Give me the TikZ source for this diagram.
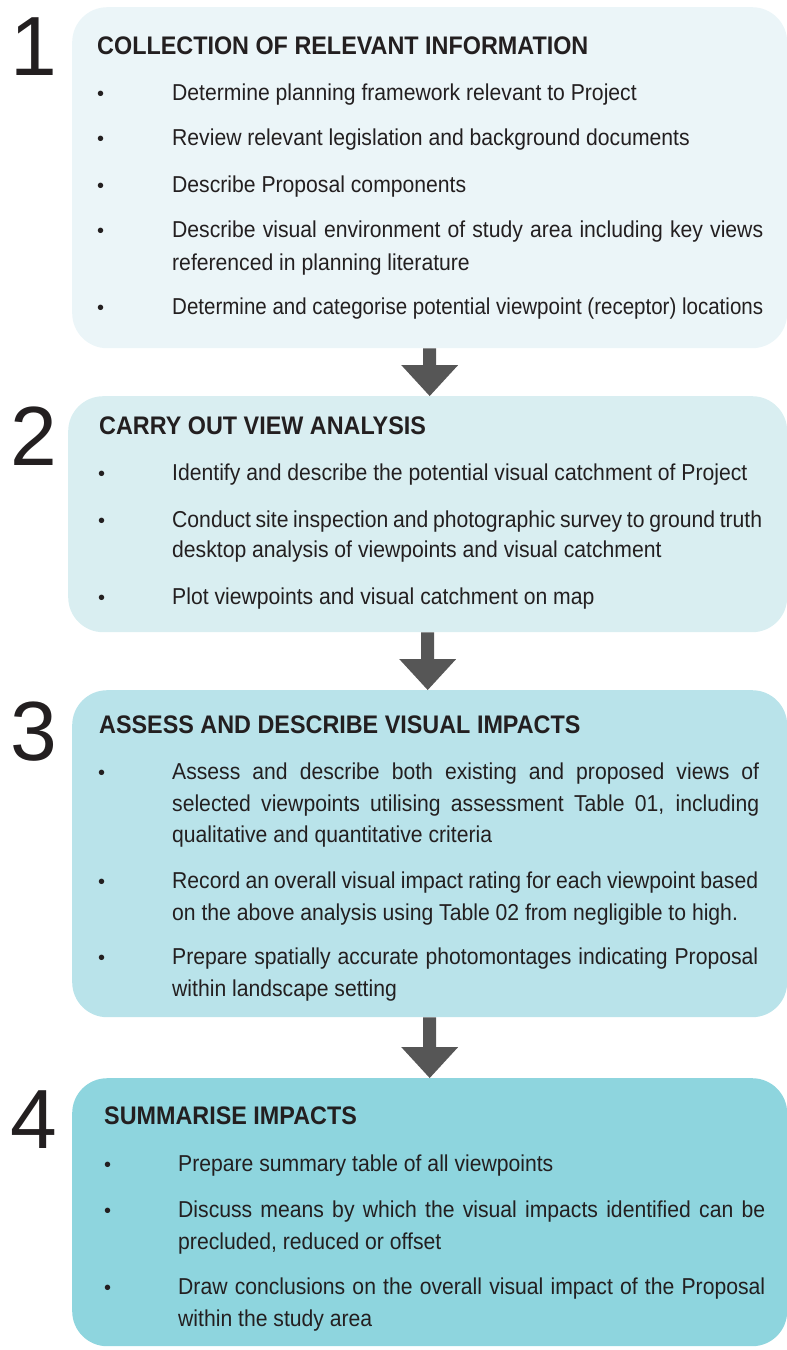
\documentclass[tikz,border=0pt]{standalone}
\usepackage{graphicx}
\usepackage{fontspec}
\setmainfont{Liberation Sans}
\newfontfamily\bodyf[FakeStretch=0.92]{Liberation Sans}
\usetikzlibrary{calc}
\definecolor{cone}{HTML}{EBF5F8}
\definecolor{ctwo}{HTML}{D9EEF1}
\definecolor{cthree}{HTML}{B9E3EA}
\definecolor{cfour}{HTML}{8ED5DE}
\definecolor{arrowc}{HTML}{565656}
\definecolor{txt}{HTML}{231F20}
\newcommand{\jl}[2]{\makebox[#1pt][s]{#2}}
\newcommand{\blockarrow}[2]{%
  \fill[arrowc] ($(#1.south)+(-6.5,0)$) -- ($(#1.south |- #2.north)+(-6.5,-31)$)
    -- ($(#1.south |- #2.north)+(-28.5,-31)$) -- (#1.south |- #2.north)
    -- ($(#1.south |- #2.north)+(28.5,-31)$) -- ($(#1.south |- #2.north)+(6.5,-31)$)
    -- ($(#1.south)+(6.5,0)$) -- cycle;}
\begin{document}
\begin{tikzpicture}[x=1pt,y=-1pt,
  stepbox/.style={rectangle, rounded corners=35pt, inner sep=0pt, anchor=north west},
  bigno/.style={font=\fontsize{84}{90}\selectfont, text=txt, inner sep=0pt, anchor=base west},
  ttl/.style={font=\bodyf\bfseries\fontsize{25.4}{30}\selectfont, text=txt, inner sep=0pt, anchor=base west},
  body/.style={font=\bodyf\fontsize{23}{32}\selectfont, text=txt, inner sep=0pt, anchor=base west},
  bul/.style={font=\fontsize{20}{24}\selectfont, text=txt, inner sep=0pt, anchor=base west}]
\useasboundingbox (0,0) rectangle (787,1350);

% boxes
\node[stepbox, fill=cone, minimum width=715pt, minimum height=341pt] (b1) at (72,7) {};
\node[stepbox, fill=ctwo, minimum width=719pt, minimum height=236pt] (b2) at (68,396) {};
\node[stepbox, fill=cthree, minimum width=715pt, minimum height=327pt] (b3) at (72,690) {};
\node[stepbox, fill=cfour, minimum width=715pt, minimum height=268pt] (b4) at (72,1078) {};

% arrows
\blockarrow{b1}{b2}
\blockarrow{b2}{b3}
\blockarrow{b3}{b4}

% numbers
\node[bigno] (n1) at (10,75) {1};
\node[bigno] (n2) at (10,465) {2};
\node[bigno] (n3) at (10,760) {3};
\node[bigno] (n4) at (10,1148) {4};

% box 1
\node[ttl] (t1) at (97,54) {COLLECTION OF RELEVANT INFORMATION};
\node[bul] (p11) at (97,100) {•};
\node[body] (a11) at (172,100) {Determine planning framework relevant to Project};
\node[bul] (p12) at (97,145) {•};
\node[body] (a12) at (172,145) {Review relevant legislation and background documents};
\node[bul] (p13) at (97,192) {•};
\node[body] (a13) at (172,192) {Describe Proposal components};
\node[bul] (p14) at (97,237) {•};
\node[body] (a14) at (172,237) {\jl{591}{Describe visual environment of study area including key views}};
\node[body] (a14b) at (172,270) {referenced in planning literature};
\node[bul] (p15) at (97,314) {•};
\node[body] (a15) at (172,314) {\resizebox{591pt}{\height}{Determine and categorise potential viewpoint (receptor) locations}};

% box 2
\node[ttl] (t2) at (99,434) {CARRY OUT VIEW ANALYSIS};
\node[bul] (p21) at (98,480) {•};
\node[body] (a21) at (172,480) {Identify and describe the potential visual catchment of Project};
\node[bul] (p22) at (98,527) {•};
\node[body] (a22) at (172,527) {\jl{590}{Conduct site inspection and photographic survey to ground truth}};
\node[body] (a22b) at (172,557) {desktop analysis of viewpoints and visual catchment};
\node[bul] (p23) at (98,604) {•};
\node[body] (a23) at (172,604) {Plot viewpoints and visual catchment on map};

% box 3
\node[ttl] (t3) at (99,733) {ASSESS AND DESCRIBE VISUAL IMPACTS};
\node[bul] (p31) at (98,779) {•};
\node[body] (a31) at (172,779) {\jl{587}{Assess and describe both existing and proposed views of}};
\node[body] (a31b) at (172,811) {\jl{587}{selected viewpoints utilising assessment Table 01, including}};
\node[body] (a31c) at (172,842) {qualitative and quantitative criteria};
\node[bul] (p32) at (98,888) {•};
\node[body] (a32) at (172,888) {\jl{586}{Record an overall visual impact rating for each viewpoint based}};
\node[body] (a32b) at (172,920) {on the above analysis using Table 02 from negligible to high.};
\node[bul] (p33) at (98,964) {•};
\node[body] (a33) at (172,964) {\jl{586}{Prepare spatially accurate photomontages indicating Proposal}};
\node[body] (a33b) at (172,996) {within landscape setting};

% box 4
\node[ttl] (t4) at (104,1124) {SUMMARISE IMPACTS};
\node[bul] (p41) at (104,1171) {•};
\node[body] (a41) at (178,1171) {Prepare summary table of all viewpoints};
\node[bul] (p42) at (104,1217) {•};
\node[body] (a42) at (178,1217) {\jl{587}{Discuss means by which the visual impacts identified can be}};
\node[body] (a42b) at (178,1249) {precluded, reduced or offset};
\node[bul] (p43) at (104,1294) {•};
\node[body] (a43) at (178,1294) {\jl{587}{Draw conclusions on the overall visual impact of the Proposal}};
\node[body] (a43b) at (178,1326) {within the study area};
\end{tikzpicture}
\end{document}
